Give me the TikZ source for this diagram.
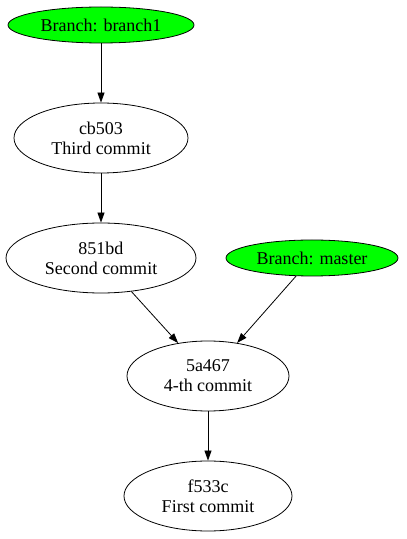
\documentclass[tikz,border=0pt]{standalone}
\usepackage{fontspec}
\setmainfont{Liberation Serif}
\usetikzlibrary{shapes.geometric,arrows.meta}
\definecolor{branchgreen}{RGB}{0,255,0}
\begin{document}
\begin{tikzpicture}[x=1pt,y=1pt,
  commit/.style={draw,ellipse,inner sep=0pt,align=center,font=\fontsize{18}{20}\selectfont,line width=0.8pt},
  branch/.style={commit,fill=branchgreen},
  edge/.style={draw,line width=0.8pt,-{Triangle[length=10pt,width=7pt]}}]
\useasboundingbox (0,0) rectangle (407,539);
\node[branch,minimum width=186,minimum height=36] (b1) at (101,514) {Branch: branch1};
\node[commit,minimum width=174,minimum height=70] (cb) at (101,401) {cb503\\Third commit};
\node[commit,minimum width=190,minimum height=70] (s) at (101,281) {851bd\\Second commit};
\node[branch,minimum width=172,minimum height=36] (m) at (312,281) {Branch: master};
\node[commit,minimum width=162,minimum height=70] (f) at (208,163) {5a467\\4-th commit};
\node[commit,minimum width=168,minimum height=70] (first) at (208,43) {f533c\\First commit};
\draw[edge] (b1) -- (cb);
\draw[edge] (cb) -- (s);
\draw[edge] (s) -- (f);
\draw[edge] (m) -- (f);
\draw[edge] (f) -- (first);
\end{tikzpicture}
\end{document}
